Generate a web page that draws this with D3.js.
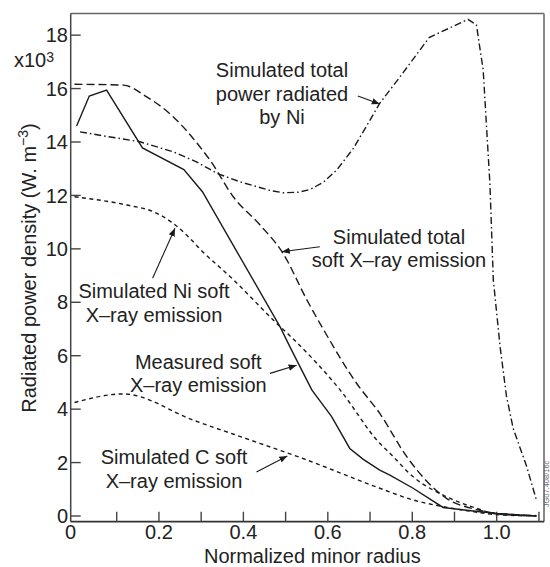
<!DOCTYPE html>
<html><head><meta charset="utf-8">
<script src="https://cdn.jsdelivr.net/npm/d3@7"></script>
<style>
body{margin:0;background:#fff}
svg{display:block}
text{font-family:"Liberation Sans",Arial,Helvetica,sans-serif;fill:#222}
</style>
</head><body>
<svg id="c" width="550" height="567"></svg>
<script>
// ---- data ----
const xTickValues = [0,0.1,0.2,0.3,0.4,0.5,0.6,0.7,0.8,0.9,1.0,1.1];
const xTickLabels = ["0","","0.2","","0.4","","0.6","","0.8","","1.0",""];
const yTickValues = [0,2,4,6,8,10,12,14,16,18];
const yTickLabels = ["0","2","4","6","8","10","12","14","16","18"];

const measuredX = [0.005,0.035,0.076,0.161,0.259,0.303,0.487,0.51,0.562,0.609,0.652,0.684,0.723,0.747,0.802,0.873,0.96,1.0,1.094];
const measuredY = [14.6,15.72,15.94,13.78,12.97,12.14,7.08,6.34,4.72,3.72,2.53,2.12,1.72,1.53,1.04,0.32,0.16,0.1,0.0];

const niTotalX = [0.013,0.08,0.155,0.234,0.29,0.337,0.39,0.431,0.465,0.494,0.53,0.558,0.59,0.621,0.66,0.69,0.723,0.771,0.84,0.932,0.952,0.968,0.984,0.992,1.008,1.023,1.039,1.071,1.094];
const niTotalY = [14.38,14.2,14.01,13.63,13.25,12.83,12.52,12.33,12.18,12.1,12.12,12.22,12.5,12.95,13.75,14.55,15.45,16.44,17.91,18.59,18.38,16.69,12.4,8.83,6.34,4.5,3.28,1.85,0.6];

const totalSoftX = [0,0.116,0.171,0.23,0.297,0.321,0.376,0.439,0.494,0.55,0.589,0.668,0.723,0.787,0.881,0.95,1.0,1.094];
const totalSoftY = [16.16,16.13,15.69,15.0,13.82,13.32,11.95,10.9,9.83,8.1,7.0,4.97,3.84,2.22,0.66,0.25,0.1,0.02];

const niSoftX = [0,0.124,0.187,0.234,0.273,0.297,0.376,0.479,0.51,0.629,0.723,0.747,0.802,0.881,0.95,1.0,1.094];
const niSoftY = [11.95,11.64,11.39,10.95,10.4,10.0,8.85,7.21,6.75,4.72,2.72,2.35,1.47,0.72,0.3,0.08,0.0];

const cSoftX = [0,0.116,0.281,0.439,0.55,0.723,0.802,0.873,0.95,1.0,1.094];
const cSoftY = [4.25,4.57,3.59,2.72,2.1,1.04,0.6,0.35,0.15,0.05,0.0];

// annotation texts and arrow tips/tails (data coordinates)
const annTexts = [
  ["Simulated total","power radiated","by Ni"],
  ["Simulated total","soft X\u2013ray emission"],
  ["Simulated Ni soft","X\u2013ray emission"],
  ["Measured soft","X\u2013ray emission"],
  ["Simulated C soft","X\u2013ray emission"]
];
const annTip  = [[0.723,15.42],[0.491,9.89],[0.238,10.77],[0.526,5.64],[0.504,2.25]];
const annTail = [[0.671,15.72],[0.581,10.08],[0.185,8.9],[0.463,5.34],[0.431,1.65]];

// ---- layout ----
const svg = d3.select("#c");
const L=70.7, R=544, T=13.5, B=521.7;
const x = d3.scaleLinear().domain([-0.009,1.112]).range([L,R]);
const y = d3.scaleLinear().domain([-0.213,18.81]).range([B,T]);

// frame
svg.append("line").attr("x1",L).attr("x2",R).attr("y1",T).attr("y2",T).attr("stroke","#666").attr("stroke-width",1.6);
svg.append("line").attr("x1",R).attr("x2",R).attr("y1",T).attr("y2",B).attr("stroke","#888").attr("stroke-width",2);
svg.append("line").attr("x1",L).attr("x2",L).attr("y1",T).attr("y2",B).attr("stroke","#444").attr("stroke-width",1.5);
svg.append("line").attr("x1",L).attr("x2",R).attr("y1",B).attr("y2",B).attr("stroke","#333").attr("stroke-width",1.8);

// x ticks (inward)
xTickValues.forEach((v,i)=>{
  if (v>0) svg.append("line").attr("x1",x(v)).attr("x2",x(v)).attr("y1",B).attr("y2",B-10).attr("stroke","#444").attr("stroke-width",1.4);
  if (xTickLabels[i]) svg.append("text").attr("x",x(v)+(v===0?-4:0)).attr("y",538.5)
     .attr("text-anchor","middle").attr("font-size",20).text(xTickLabels[i]);
});
// y ticks (inward)
yTickValues.forEach((v,i)=>{
  svg.append("line").attr("x1",L).attr("x2",L+10).attr("y1",y(v)).attr("y2",y(v)).attr("stroke","#444").attr("stroke-width",1.4);
  svg.append("text").attr("x",68).attr("y",y(v)).attr("dy","0.36em")
     .attr("text-anchor","end").attr("font-size",20).text(yTickLabels[i]);
});

// axis titles
svg.append("text").attr("x",(L+R)/2+5).attr("y",563).attr("text-anchor","middle").attr("font-size",20).text("Normalized minor radius");
const yl = svg.append("text").attr("transform","translate(36,268) rotate(-90)").attr("text-anchor","middle").attr("font-size",20);
yl.append("tspan").text("Radiated power density (W. m");
yl.append("tspan").attr("font-size",14).attr("dy",-8).text("\u22123");
yl.append("tspan").attr("dy",8).text(")");

const ex = svg.append("text").attr("x",14).attr("y",67).attr("font-size",20);
ex.append("tspan").text("x10");
ex.append("tspan").attr("font-size",14).attr("dy",-5).text("3");

// curves
function series(xs,ys){ return xs.map((v,i)=>[v,ys[i]]); }
const lin = d3.line().x(d=>x(d[0])).y(d=>y(d[1]));
const smooth = d3.line().x(d=>x(d[0])).y(d=>y(d[1])).curve(d3.curveMonotoneX);
const lines = [
  {d:series(cSoftX,cSoftY), gen:smooth, dash:"4,3.5"},
  {d:series(niSoftX,niSoftY), gen:smooth, dash:"4,3.5"},
  {d:series(totalSoftX,totalSoftY), gen:smooth, dash:"8,4"},
  {d:series(niTotalX,niTotalY), gen:lin, dash:"7,3,1.5,3"},
  {d:series(measuredX,measuredY), gen:lin, dash:null}
];
lines.forEach(s=>{
  const p = svg.append("path").attr("d",s.gen(s.d)).attr("fill","none").attr("stroke","#1a1a1a").attr("stroke-width",1.4);
  if (s.dash) p.attr("stroke-dasharray",s.dash);
});

// arrowhead marker
svg.append("defs").append("marker").attr("id","ah").attr("viewBox","0 0 10 10").attr("refX",10).attr("refY",5)
  .attr("markerWidth",8).attr("markerHeight",8).attr("markerUnits","userSpaceOnUse").attr("orient","auto")
  .append("path").attr("d","M0,1 L10,5 L0,9 Z").attr("fill","#1a1a1a");

annTip.forEach((t,i)=>{
  svg.append("line").attr("x1",x(annTail[i][0])).attr("y1",y(annTail[i][1]))
    .attr("x2",x(t[0])).attr("y2",y(t[1])).attr("stroke","#1a1a1a").attr("stroke-width",1.1).attr("marker-end","url(#ah)");
});

// annotation text positions (center x, first baseline y, line step)
const annPos = [[282,77,23.5],[399,244.3,22.4],[154,298.3,23.4],[198.3,369,22.7],[174,464,24.3]];
annTexts.forEach((lns,i)=>{
  lns.forEach((t,j)=>{
    svg.append("text").attr("x",annPos[i][0]).attr("y",annPos[i][1]+j*annPos[i][2])
      .attr("text-anchor","middle").attr("font-size",20).text(t);
  });
});

// figure id
svg.append("text").attr("transform","translate(549.3,484) rotate(-90)").attr("text-anchor","middle")
  .attr("font-size",7.5).style("fill","#666").text("JG07.408/16c");
</script>
</body></html>
